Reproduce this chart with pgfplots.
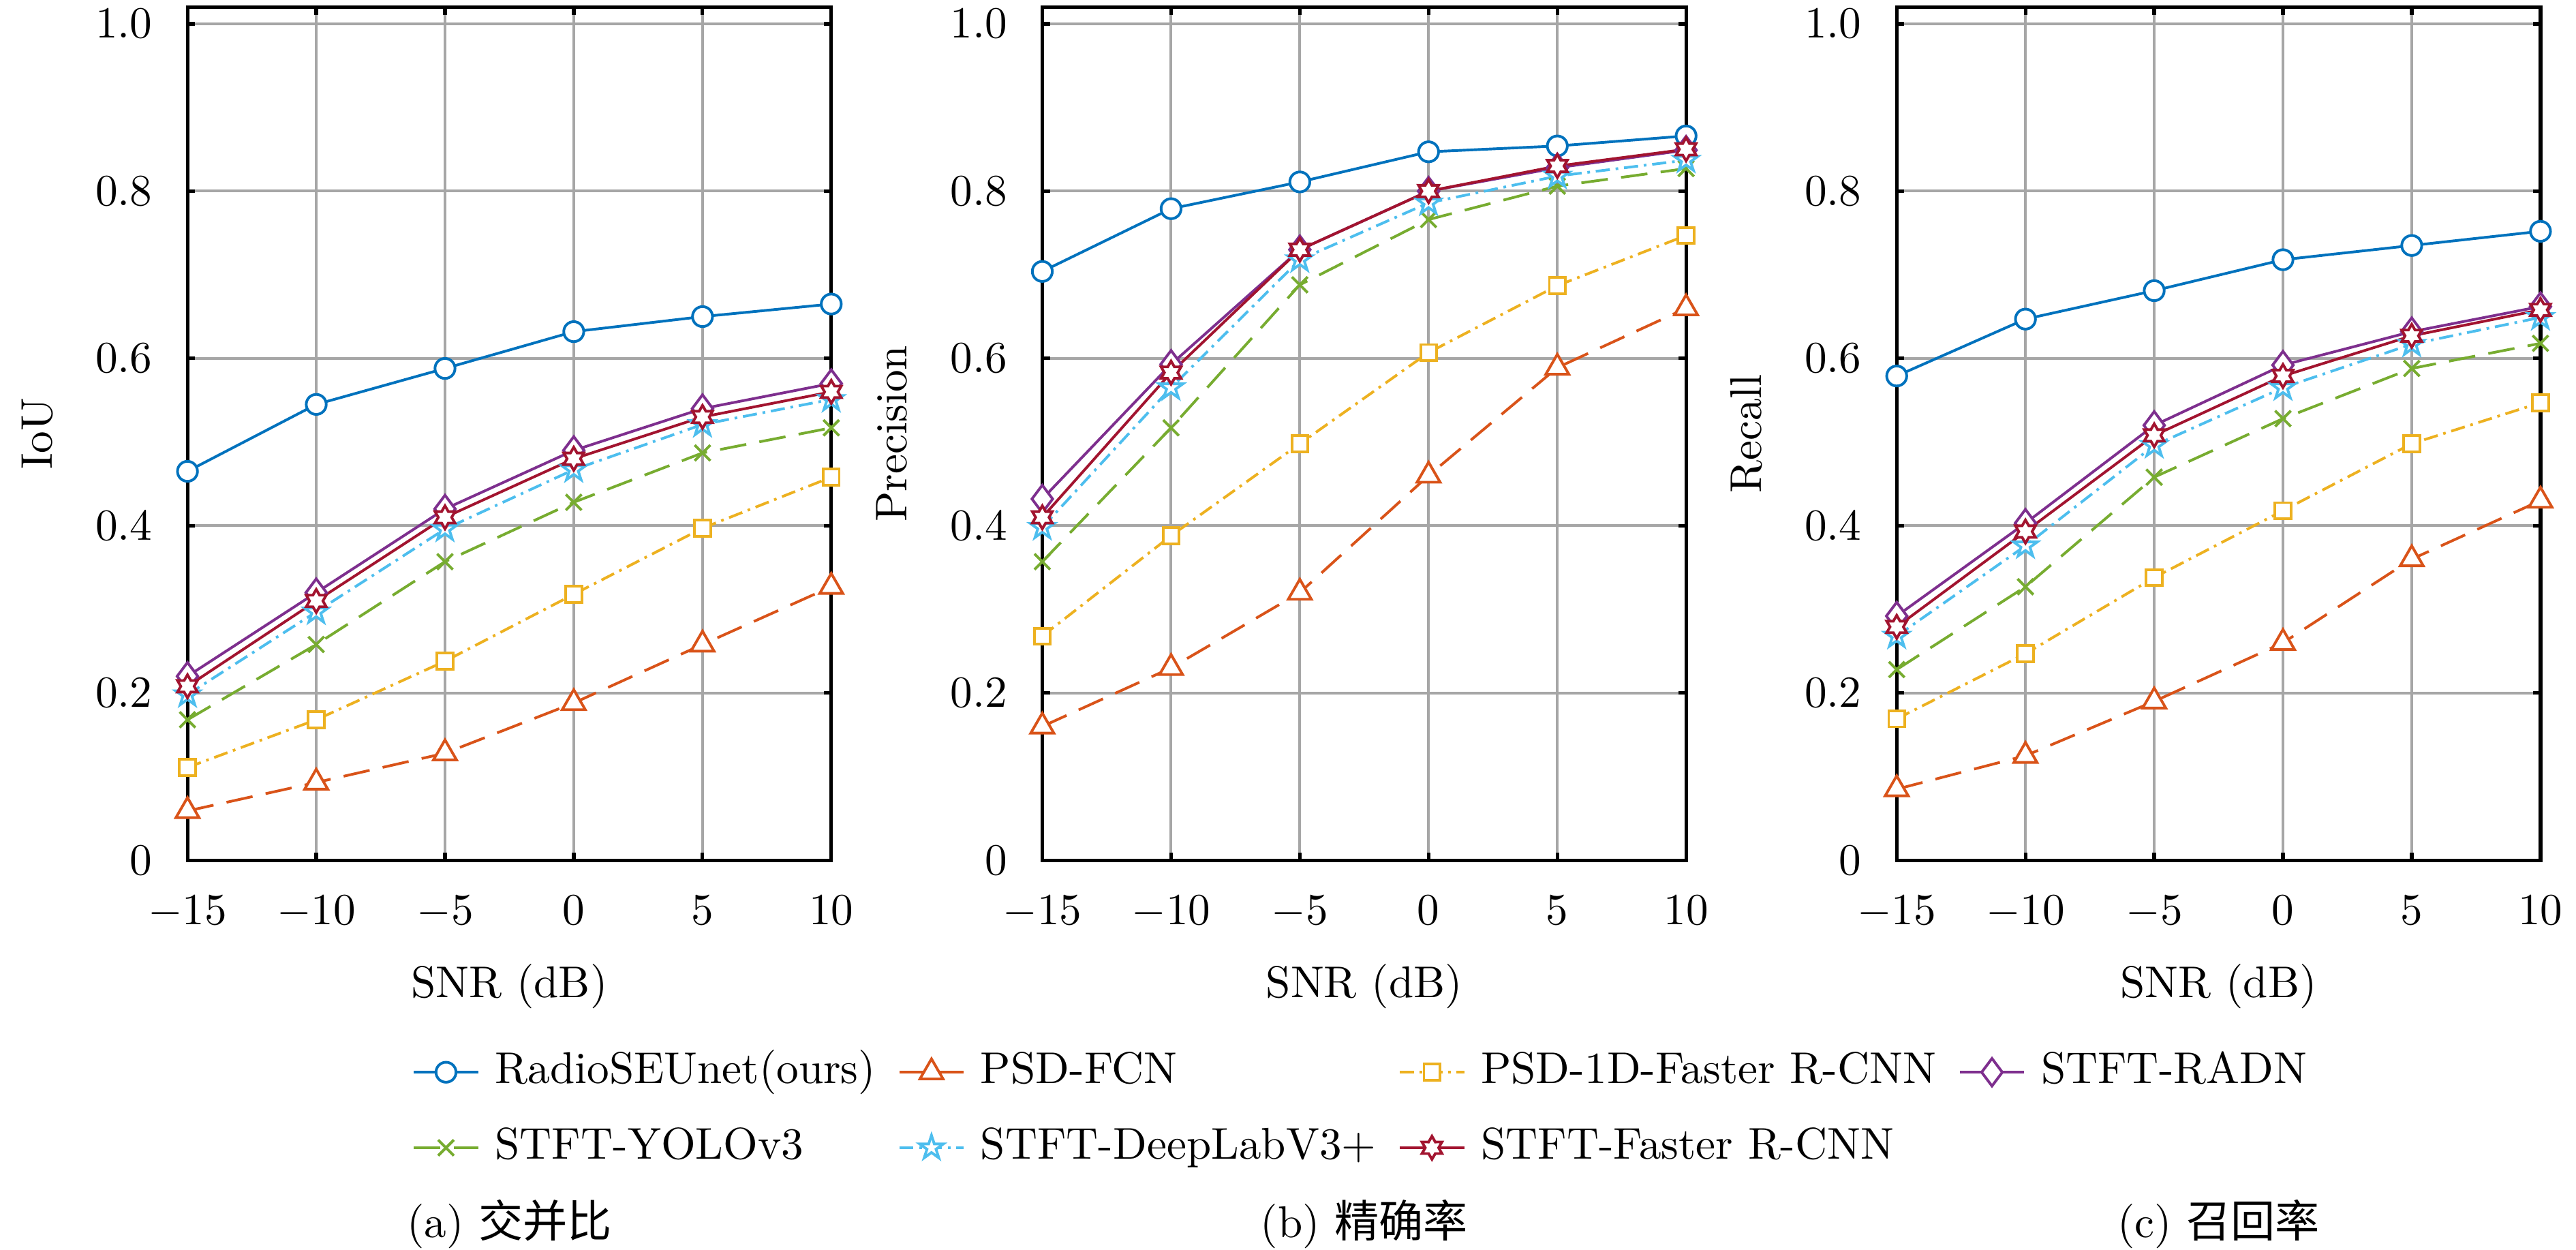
\documentclass[border=0pt]{standalone}
\usepackage{fontspec}
\newfontfamily\cjk{Noto Sans CJK SC}
\usepackage{pgfplots}
\usepackage{pgfplotstable}
\pgfplotsset{compat=1.18}

\definecolor{c1}{RGB}{0,114,189}
\definecolor{c2}{RGB}{217,83,25}
\definecolor{c3}{RGB}{237,177,32}
\definecolor{c4}{RGB}{126,47,142}
\definecolor{c5}{RGB}{119,172,48}
\definecolor{c6}{RGB}{77,190,238}
\definecolor{c7}{RGB}{162,20,47}
\definecolor{gridgray}{RGB}{166,166,166}

\pgfdeclareplotmark{pentagram}{%
  \pgfpathmoveto{\pgfpointpolar{90}{\pgfplotmarksize}}%
  \pgfpathlineto{\pgfpointpolar{126}{0.382\pgfplotmarksize}}%
  \pgfpathlineto{\pgfpointpolar{162}{\pgfplotmarksize}}%
  \pgfpathlineto{\pgfpointpolar{198}{0.382\pgfplotmarksize}}%
  \pgfpathlineto{\pgfpointpolar{234}{\pgfplotmarksize}}%
  \pgfpathlineto{\pgfpointpolar{270}{0.382\pgfplotmarksize}}%
  \pgfpathlineto{\pgfpointpolar{306}{\pgfplotmarksize}}%
  \pgfpathlineto{\pgfpointpolar{342}{0.382\pgfplotmarksize}}%
  \pgfpathlineto{\pgfpointpolar{18}{\pgfplotmarksize}}%
  \pgfpathlineto{\pgfpointpolar{54}{0.382\pgfplotmarksize}}%
  \pgfpathclose
  \pgfusepathqfillstroke
}
\pgfdeclareplotmark{hexagram}{%
  \pgfpathmoveto{\pgfpointpolar{90}{\pgfplotmarksize}}%
  \pgfpathlineto{\pgfpointpolar{120}{0.577\pgfplotmarksize}}%
  \pgfpathlineto{\pgfpointpolar{150}{\pgfplotmarksize}}%
  \pgfpathlineto{\pgfpointpolar{180}{0.577\pgfplotmarksize}}%
  \pgfpathlineto{\pgfpointpolar{210}{\pgfplotmarksize}}%
  \pgfpathlineto{\pgfpointpolar{240}{0.577\pgfplotmarksize}}%
  \pgfpathlineto{\pgfpointpolar{270}{\pgfplotmarksize}}%
  \pgfpathlineto{\pgfpointpolar{300}{0.577\pgfplotmarksize}}%
  \pgfpathlineto{\pgfpointpolar{330}{\pgfplotmarksize}}%
  \pgfpathlineto{\pgfpointpolar{0}{0.577\pgfplotmarksize}}%
  \pgfpathlineto{\pgfpointpolar{30}{\pgfplotmarksize}}%
  \pgfpathlineto{\pgfpointpolar{60}{0.577\pgfplotmarksize}}%
  \pgfpathclose
  \pgfusepathqfillstroke
}

% columns: x, RadioSEUnet, PSD-FCN, PSD-1D-Faster, STFT-RADN, STFT-YOLOv3, STFT-DeepLabV3+, STFT-Faster
\pgfplotstableread{
x   R     FCN   D1    RADN  YOLO  DL    FRC
-15 0.465 0.059 0.111 0.220 0.168 0.198 0.208
-10 0.545 0.093 0.168 0.320 0.258 0.297 0.310
-5  0.588 0.128 0.238 0.420 0.357 0.396 0.410
0   0.632 0.188 0.318 0.490 0.428 0.467 0.480
5   0.650 0.258 0.397 0.540 0.487 0.521 0.530
10  0.665 0.327 0.458 0.570 0.517 0.551 0.560
}\iou
\pgfplotstableread{
x   R     FCN   D1    RADN  YOLO  DL    FRC
-15 0.704 0.160 0.268 0.432 0.357 0.398 0.410
-10 0.779 0.230 0.388 0.593 0.517 0.565 0.583
-5  0.811 0.320 0.498 0.730 0.688 0.718 0.730
0   0.847 0.460 0.607 0.800 0.766 0.786 0.800
5   0.854 0.589 0.687 0.828 0.806 0.818 0.830
10  0.866 0.660 0.747 0.849 0.827 0.837 0.850
}\prec
\pgfplotstableread{
x   R     FCN   D1    RADN  YOLO  DL    FRC
-15 0.579 0.085 0.169 0.292 0.228 0.268 0.279
-10 0.647 0.125 0.247 0.403 0.327 0.376 0.393
-5  0.681 0.190 0.338 0.520 0.458 0.496 0.508
0   0.718 0.260 0.418 0.592 0.528 0.565 0.579
5   0.735 0.360 0.498 0.632 0.588 0.617 0.627
10  0.752 0.430 0.547 0.662 0.618 0.649 0.658
}\rec

\pgfplotsset{
  myaxis/.style={
    scale only axis, width=144.9pt, height=192pt,
    xmin=-15, xmax=10, ymin=0, ymax=1.02,
    xtick={-15,-10,-5,0,5,10},
    ytick={0,0.2,0.4,0.6,0.8,1.0},
    yticklabels={0,0.2,0.4,0.6,0.8,1.0},
    grid=major, major grid style={line width=0.6pt, color=gridgray},
    tick align=inside, major tick length=1.7pt,
    tick style={line width=0.8pt, black},
    axis line style={line width=0.8pt},
    xticklabel shift=4.5pt, yticklabel shift=4.4pt,
    xlabel={SNR (dB)},
    xlabel style={at={([yshift=-30.9pt]axis description cs:0.5,0)}, anchor=base},
    ylabel style={at={([xshift=-30.5pt]axis description cs:0,0.5)}, anchor=base},
    clip=false,
    every axis plot/.append style={line width=0.6pt},
    legend image code/.code={
      \draw[mark repeat=2, mark phase=2] plot coordinates {(0cm,0cm) (0.255cm,0cm) (0.51cm,0cm)};
    },
  },
  sR/.style={color=c1, solid, mark=*, mark size=2.25pt, mark options={solid, fill=white}},
  sFCN/.style={color=c2, dash pattern=on 6pt off 3pt, mark=triangle*, mark size=3pt, mark options={solid, fill=white}},
  sD1/.style={color=c3, dash pattern=on 3.2pt off 1.3pt on 0.6pt off 1.3pt, mark=square*, mark size=1.8pt, mark options={solid, fill=white}},
  sRADN/.style={color=c4, solid, mark=diamond*, mark size=3.1pt, mark options={solid, fill=white}},
  sYOLO/.style={color=c5, dash pattern=on 6pt off 3pt, mark=x, mark size=2.5pt, mark options={solid}},
  sDL/.style={color=c6, dash pattern=on 3.2pt off 1.3pt on 0.6pt off 1.3pt, mark=pentagram, mark size=2.8pt, mark options={solid, fill=white}},
  sFRC/.style={color=c7, solid, mark=hexagram, mark size=2.6pt, mark options={solid, fill=white}},
}

\begin{document}
\begin{tikzpicture}
\begin{axis}[myaxis, name=ax1, at={(0pt,0pt)}, ylabel={IoU}]
  \addplot[sR] table[x=x,y=R] {\iou};
  \addplot[sFCN] table[x=x,y=FCN] {\iou};
  \addplot[sD1] table[x=x,y=D1] {\iou};
  \addplot[sRADN] table[x=x,y=RADN] {\iou};
  \addplot[sYOLO] table[x=x,y=YOLO] {\iou};
  \addplot[sDL] table[x=x,y=DL] {\iou};
  \addplot[sFRC] table[x=x,y=FRC] {\iou};
\end{axis}
\begin{axis}[myaxis, name=ax2, at={(192.4pt,0pt)}, ylabel={Precision},
  legend columns=4,
  legend style={at={(0.5,0)}, anchor=north, yshift=-38.5pt, draw=none, fill=none,
    inner xsep=0pt, inner ysep=2pt,
    nodes={inner sep=2pt, text height=7.5pt, text depth=2.5pt},
    /tikz/row sep=3pt,
    /tikz/every even column/.append style={column sep=3pt},
    /tikz/every odd column/.append style={column sep=1.5pt}},
  legend cell align=left]
  \addplot[sR] table[x=x,y=R] {\prec};
  \addplot[sFCN] table[x=x,y=FCN] {\prec};
  \addplot[sD1] table[x=x,y=D1] {\prec};
  \addplot[sRADN] table[x=x,y=RADN] {\prec};
  \addplot[sYOLO] table[x=x,y=YOLO] {\prec};
  \addplot[sDL] table[x=x,y=DL] {\prec};
  \addplot[sFRC] table[x=x,y=FRC] {\prec};
  \legend{RadioSEUnet(ours), PSD-FCN, PSD-1D-Faster R-CNN, STFT-RADN, STFT-YOLOv3, STFT-DeepLabV3+, STFT-Faster R-CNN}
\end{axis}
\begin{axis}[myaxis, name=ax3, at={(384.7pt,0pt)}, ylabel={Recall}]
  \addplot[sR] table[x=x,y=R] {\rec};
  \addplot[sFCN] table[x=x,y=FCN] {\rec};
  \addplot[sD1] table[x=x,y=D1] {\rec};
  \addplot[sRADN] table[x=x,y=RADN] {\rec};
  \addplot[sYOLO] table[x=x,y=YOLO] {\rec};
  \addplot[sDL] table[x=x,y=DL] {\rec};
  \addplot[sFRC] table[x=x,y=FRC] {\rec};
\end{axis}
\node[anchor=base] at ([yshift=-84.8pt]ax1.south) {(a) {\cjk 交并比}};
\node[anchor=base] at ([yshift=-84.8pt]ax2.south) {(b) {\cjk 精确率}};
\node[anchor=base] at ([yshift=-84.8pt]ax3.south) {(c) {\cjk 召回率}};
\pgfresetboundingbox
\path[use as bounding box] (-42.2pt,-87.6pt) rectangle (537.6pt,193.6pt);
\end{tikzpicture}
\end{document}
